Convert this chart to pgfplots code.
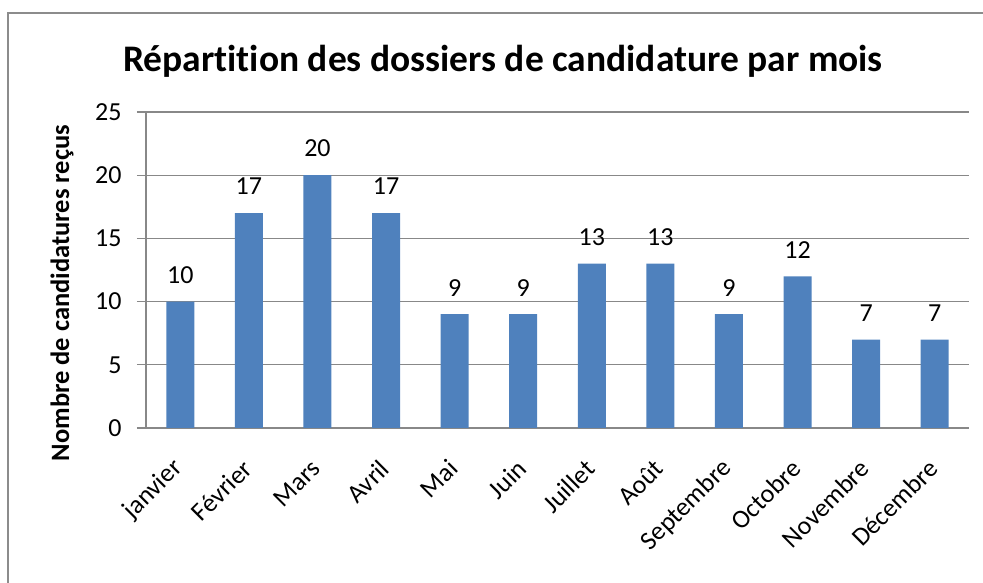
\documentclass[border=0pt]{standalone}
\usepackage{pgfplots}
\pgfplotsset{compat=1.18}
\usepackage{fontspec}
\setmainfont{Carlito}[Ligatures=NoCommon]
\definecolor{barblue}{HTML}{4F81BD}
\definecolor{gridgray}{HTML}{888888}
\definecolor{framegray}{HTML}{8C8C8C}
\begin{document}
\begin{tikzpicture}[x=1pt,y=1pt]
\useasboundingbox (0,0) rectangle (983,583);
\draw[framegray, line width=1.5pt] (8,-20) rectangle (1000,570);
\begin{axis}[
  at={(146pt,155pt)}, anchor=south west,
  scale only axis, width=823pt, height=316pt,
  xmin=-0.5, xmax=11.5, ymin=0, ymax=25,
  ytick={0,5,...,25},
  xtick={0,...,11},
  xticklabels={janvier,Février,Mars,Avril,Mai,Juin,Juillet,Août,Septembre,Octobre,Novembre,Décembre},
  minor xtick={-0.5,0.5,...,11.5},
  axis x line*=bottom, axis y line*=left,
  axis line style={gridgray, line width=1.3pt, -},
  tick align=outside,
  major tick length=9pt, minor tick length=9pt,
  every tick/.style={gridgray, line width=1.3pt},
  x tick style={draw=none},
  minor x tick style={gridgray, line width=1.3pt},
  ymajorgrids, major grid style={gridgray, line width=1.3pt},
  /pgf/number format/assume math mode=true,
  ticklabel style={font=\fontsize{26}{30}\selectfont},
  yticklabel style={xshift=-12pt},
  xticklabel style={xshift=1pt, yshift=-25pt, rotate=45, anchor=east},
  ybar, bar width=28pt,
  nodes near coords,
  nodes near coords style={font=\fontsize{26}{30}\selectfont, anchor=south, inner sep=0pt, yshift=18pt, black},
  clip=false,
]
\addplot[fill=barblue, draw=none] coordinates {
(0,10) (1,17) (2,20) (3,17) (4,9) (5,9) (6,13) (7,13) (8,9) (9,12) (10,7) (11,7)};
\end{axis}
\node[font=\fontsize{37.5}{42}\selectfont\bfseries] at (503,522) {Répartition des dossiers de candidature par mois};
\node[font=\fontsize{26.5}{30}\selectfont\bfseries, rotate=90] at (62,290) {Nombre de candidatures reçus};
\end{tikzpicture}
\end{document}
